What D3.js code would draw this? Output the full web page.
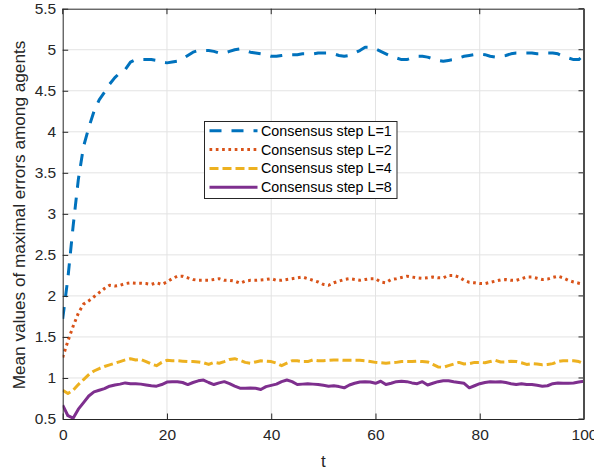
<!DOCTYPE html>
<html>
<head>
<meta charset="utf-8">
<script src="https://cdn.jsdelivr.net/npm/d3@7"></script>
<style>
  body { margin: 0; background: #fff; }
  svg { display: block; font-family: "Liberation Sans", Arial, Helvetica, sans-serif; }
</style>
</head>
<body>
<div id="chart"></div>
<script>
// t = 0..100, one value per step
const tValues = d3.range(0, 101)

const seriesL1 = [
  1.72, 2.22, 2.85, 3.42, 3.82, 4.05, 4.25, 4.39, 4.48, 4.58,
  4.66, 4.72, 4.76, 4.85, 4.88, 4.88, 4.88, 4.88, 4.87, 4.85,
  4.84, 4.85, 4.86, 4.89, 4.93, 4.97, 4.99, 4.99, 4.99, 4.98,
  4.96, 4.96, 4.98, 5.00, 5.01, 4.99, 4.97, 4.96, 4.95, 4.94,
  4.92, 4.92, 4.93, 4.94, 4.94, 4.94, 4.95, 4.95, 4.95, 4.96,
  4.96, 4.96, 4.95, 4.93, 4.92, 4.93, 4.96, 4.99, 5.03, 5.03,
  5.01, 4.98, 4.95, 4.92, 4.90, 4.88, 4.88, 4.90, 4.92, 4.92,
  4.91, 4.89, 4.87, 4.86, 4.87, 4.88, 4.90, 4.92, 4.93, 4.94,
  4.95, 4.94, 4.92, 4.91, 4.92, 4.93, 4.95, 4.96, 4.96, 4.96,
  4.96, 4.95, 4.95, 4.96, 4.96, 4.95, 4.92, 4.90, 4.88, 4.88,
  4.94
]

const seriesL2 = [
  1.25, 1.45, 1.63, 1.79, 1.90, 1.94, 1.99, 2.04, 2.09, 2.13,
  2.12, 2.13, 2.15, 2.16, 2.155, 2.155, 2.15, 2.14, 2.16, 2.14,
  2.17, 2.21, 2.24, 2.24, 2.22, 2.20, 2.19, 2.19, 2.19, 2.20,
  2.21, 2.19, 2.19, 2.18, 2.155, 2.18, 2.19, 2.19, 2.195, 2.20,
  2.21, 2.19, 2.19, 2.20, 2.21, 2.22, 2.23, 2.21, 2.19, 2.17,
  2.14, 2.13, 2.16, 2.18, 2.20, 2.21, 2.20, 2.19, 2.20, 2.21,
  2.21, 2.17, 2.16, 2.20, 2.21, 2.225, 2.24, 2.23, 2.22, 2.215,
  2.22, 2.23, 2.22, 2.22, 2.25, 2.25, 2.23, 2.19, 2.165, 2.16,
  2.15, 2.15, 2.165, 2.18, 2.195, 2.20, 2.19, 2.19, 2.21, 2.23,
  2.23, 2.215, 2.20, 2.205, 2.225, 2.24, 2.22, 2.19, 2.17, 2.155,
  2.14
]

const seriesL4 = [
  0.85, 0.81, 0.85, 0.92, 0.98, 1.04, 1.085, 1.115, 1.14, 1.16,
  1.18, 1.20, 1.22, 1.235, 1.22, 1.225, 1.20, 1.17, 1.15, 1.19,
  1.215, 1.21, 1.21, 1.205, 1.20, 1.20, 1.195, 1.185, 1.165, 1.19,
  1.18, 1.20, 1.225, 1.235, 1.215, 1.19, 1.18, 1.195, 1.21, 1.205,
  1.20, 1.18, 1.15, 1.18, 1.21, 1.21, 1.20, 1.20, 1.22, 1.21,
  1.21, 1.215, 1.22, 1.22, 1.215, 1.215, 1.215, 1.215, 1.21, 1.20,
  1.19, 1.185, 1.18, 1.185, 1.19, 1.20, 1.20, 1.20, 1.205, 1.20,
  1.195, 1.165, 1.135, 1.13, 1.15, 1.17, 1.19, 1.17, 1.175, 1.19,
  1.19, 1.185, 1.20, 1.215, 1.195, 1.195, 1.205, 1.20, 1.185, 1.165,
  1.175, 1.17, 1.16, 1.165, 1.175, 1.20, 1.21, 1.21, 1.21, 1.20,
  1.175
]

const seriesL8 = [
  0.67, 0.54, 0.51, 0.62, 0.70, 0.78, 0.83, 0.85, 0.87, 0.90,
  0.915, 0.925, 0.94, 0.93, 0.93, 0.925, 0.915, 0.905, 0.90, 0.92,
  0.95, 0.955, 0.955, 0.945, 0.92, 0.945, 0.965, 0.975, 0.945, 0.92,
  0.94, 0.955, 0.93, 0.90, 0.875, 0.875, 0.878, 0.875, 0.86, 0.895,
  0.91, 0.925, 0.955, 0.975, 0.955, 0.92, 0.925, 0.93, 0.925, 0.92,
  0.91, 0.90, 0.905, 0.895, 0.88, 0.915, 0.935, 0.95, 0.955, 0.95,
  0.935, 0.96, 0.92, 0.935, 0.955, 0.96, 0.955, 0.94, 0.93, 0.955,
  0.915, 0.935, 0.955, 0.965, 0.967, 0.955, 0.945, 0.935, 0.88, 0.905,
  0.93, 0.945, 0.955, 0.95, 0.955, 0.945, 0.93, 0.92, 0.93, 0.92,
  0.92, 0.91, 0.90, 0.905, 0.93, 0.94, 0.935, 0.935, 0.94, 0.95,
  0.96
]

const xTicks = [0, 20, 40, 60, 80, 100]
const yTicks = [0.5, 1, 1.5, 2, 2.5, 3, 3.5, 4, 4.5, 5, 5.5]
const legendLabels = ["Consensus step L=1", "Consensus step L=2", "Consensus step L=4", "Consensus step L=8"]

const series = [
  { values: seriesL1, color: "#0072BD", dash: "12,10" },
  { values: seriesL2, color: "#D95319", dash: "2.7,3.6" },
  { values: seriesL4, color: "#EDB120", dash: "9,4" },
  { values: seriesL8, color: "#7E2F8E", dash: null }
]

const width = 594
const height = 472
const margin = { left: 62.7, right: 10, top: 8.7, bottom: 53 }
const innerW = width - margin.left - margin.right
const innerH = height - margin.top - margin.bottom

const svg = d3.select("#chart").append("svg")
  .attr("width", width)
  .attr("height", height)

const x = d3.scaleLinear().domain([0, 100]).range([margin.left, margin.left + innerW])
const y = d3.scaleLinear().domain([0.5, 5.5]).range([margin.top + innerH, margin.top])

const axisColor = "#262626"
const gridColor = "#e3e3e3"

// grid
const grid = svg.append("g")
grid.selectAll(".gx").data(xTicks.slice(1, -1)).enter().append("line")
  .attr("x1", d => x(d)).attr("x2", d => x(d))
  .attr("y1", margin.top).attr("y2", margin.top + innerH)
  .attr("stroke", gridColor).attr("stroke-width", 1)
grid.selectAll(".gy").data(yTicks.slice(1, -1)).enter().append("line")
  .attr("x1", margin.left).attr("x2", margin.left + innerW)
  .attr("y1", d => y(d)).attr("y2", d => y(d))
  .attr("stroke", gridColor).attr("stroke-width", 1)

// curves, clipped to the plot box
svg.append("clipPath").attr("id", "plotclip")
  .append("rect")
  .attr("x", margin.left).attr("y", margin.top)
  .attr("width", innerW).attr("height", innerH)

const line = d3.line()
  .x((d, i) => x(tValues[i]))
  .y(d => y(d))

const curves = svg.append("g").attr("clip-path", "url(#plotclip)")
series.forEach(s => {
  curves.append("path")
    .attr("d", line(s.values))
    .attr("fill", "none")
    .attr("stroke", s.color)
    .attr("stroke-width", 3)
    .attr("stroke-linejoin", "round")
    .attr("stroke-dasharray", s.dash)
})

// axes (MATLAB style: ticks inside, box on)
const tickLen = 5.5
const xAxis = d3.axisBottom(x).tickValues(xTicks).tickSizeInner(-tickLen).tickSizeOuter(0).tickPadding(12)
const yAxis = d3.axisLeft(y).tickValues(yTicks).tickSizeInner(-tickLen).tickSizeOuter(0).tickPadding(12)
  .tickFormat(d3.format("~g"))

const gx = svg.append("g")
  .attr("transform", `translate(0,${margin.top + innerH})`)
  .call(xAxis)
const gy = svg.append("g")
  .attr("transform", `translate(${margin.left},0)`)
  .call(yAxis)

;[gx, gy].forEach(g => {
  g.select(".domain").attr("stroke", axisColor)
  g.selectAll(".tick line").attr("stroke", axisColor)
  g.selectAll(".tick text")
    .attr("fill", axisColor)
    .style("font-size", "15.5px")
    .style("font-family", "'Liberation Sans', Arial, sans-serif")
})
gy.selectAll(".tick text").attr("dx", "5.5")
gx.selectAll(".tick text").attr("dy", "0.55em")

// top and right ticks
const gTop = svg.append("g")
gTop.selectAll("line").data(xTicks).enter().append("line")
  .attr("x1", d => x(d)).attr("x2", d => x(d))
  .attr("y1", margin.top).attr("y2", margin.top + tickLen)
  .attr("stroke", axisColor)
const gRight = svg.append("g")
gRight.selectAll("line").data(yTicks).enter().append("line")
  .attr("x1", margin.left + innerW - tickLen).attr("x2", margin.left + innerW)
  .attr("y1", d => y(d)).attr("y2", d => y(d))
  .attr("stroke", axisColor)

svg.append("line")
  .attr("x1", margin.left).attr("x2", margin.left + innerW)
  .attr("y1", margin.top + 0.5).attr("y2", margin.top + 0.5)
  .attr("stroke", axisColor).attr("stroke-width", 1)
svg.append("line")
  .attr("x1", margin.left + innerW).attr("x2", margin.left + innerW)
  .attr("y1", margin.top).attr("y2", margin.top + innerH)
  .attr("stroke", "#4d4d4d").attr("stroke-width", 2)

// axis labels
svg.append("text")
  .attr("x", x(50))
  .attr("y", 467)
  .attr("text-anchor", "middle")
  .attr("fill", axisColor)
  .style("font-size", "17px")
  .text("t")

svg.append("text")
  .attr("transform", `translate(25,215) rotate(-90)`)
  .attr("text-anchor", "middle")
  .attr("fill", axisColor)
  .style("font-size", "17.2px")
  .text("Mean values of maximal errors among agents")

// legend
const legend = svg.append("g").attr("transform", "translate(204.5,121.5)")
legend.append("rect")
  .attr("width", 192.5)
  .attr("height", 77)
  .attr("fill", "#fff")
  .attr("stroke", axisColor)
  .attr("stroke-width", 1)

const rowY = d3.scaleLinear().domain([0, 3]).range([9.2, 65.8])
series.forEach((s, i) => {
  legend.append("line")
    .attr("x1", 5).attr("x2", 53)
    .attr("y1", rowY(i)).attr("y2", rowY(i))
    .attr("stroke", s.color)
    .attr("stroke-width", 3)
    .attr("stroke-dasharray", s.dash)
  legend.append("text")
    .attr("x", 56.5)
    .attr("y", rowY(i))
    .attr("dy", "0.35em")
    .attr("fill", "#000")
    .style("font-size", "14.3px")
    .text(legendLabels[i])
})
</script>
</body>
</html>
